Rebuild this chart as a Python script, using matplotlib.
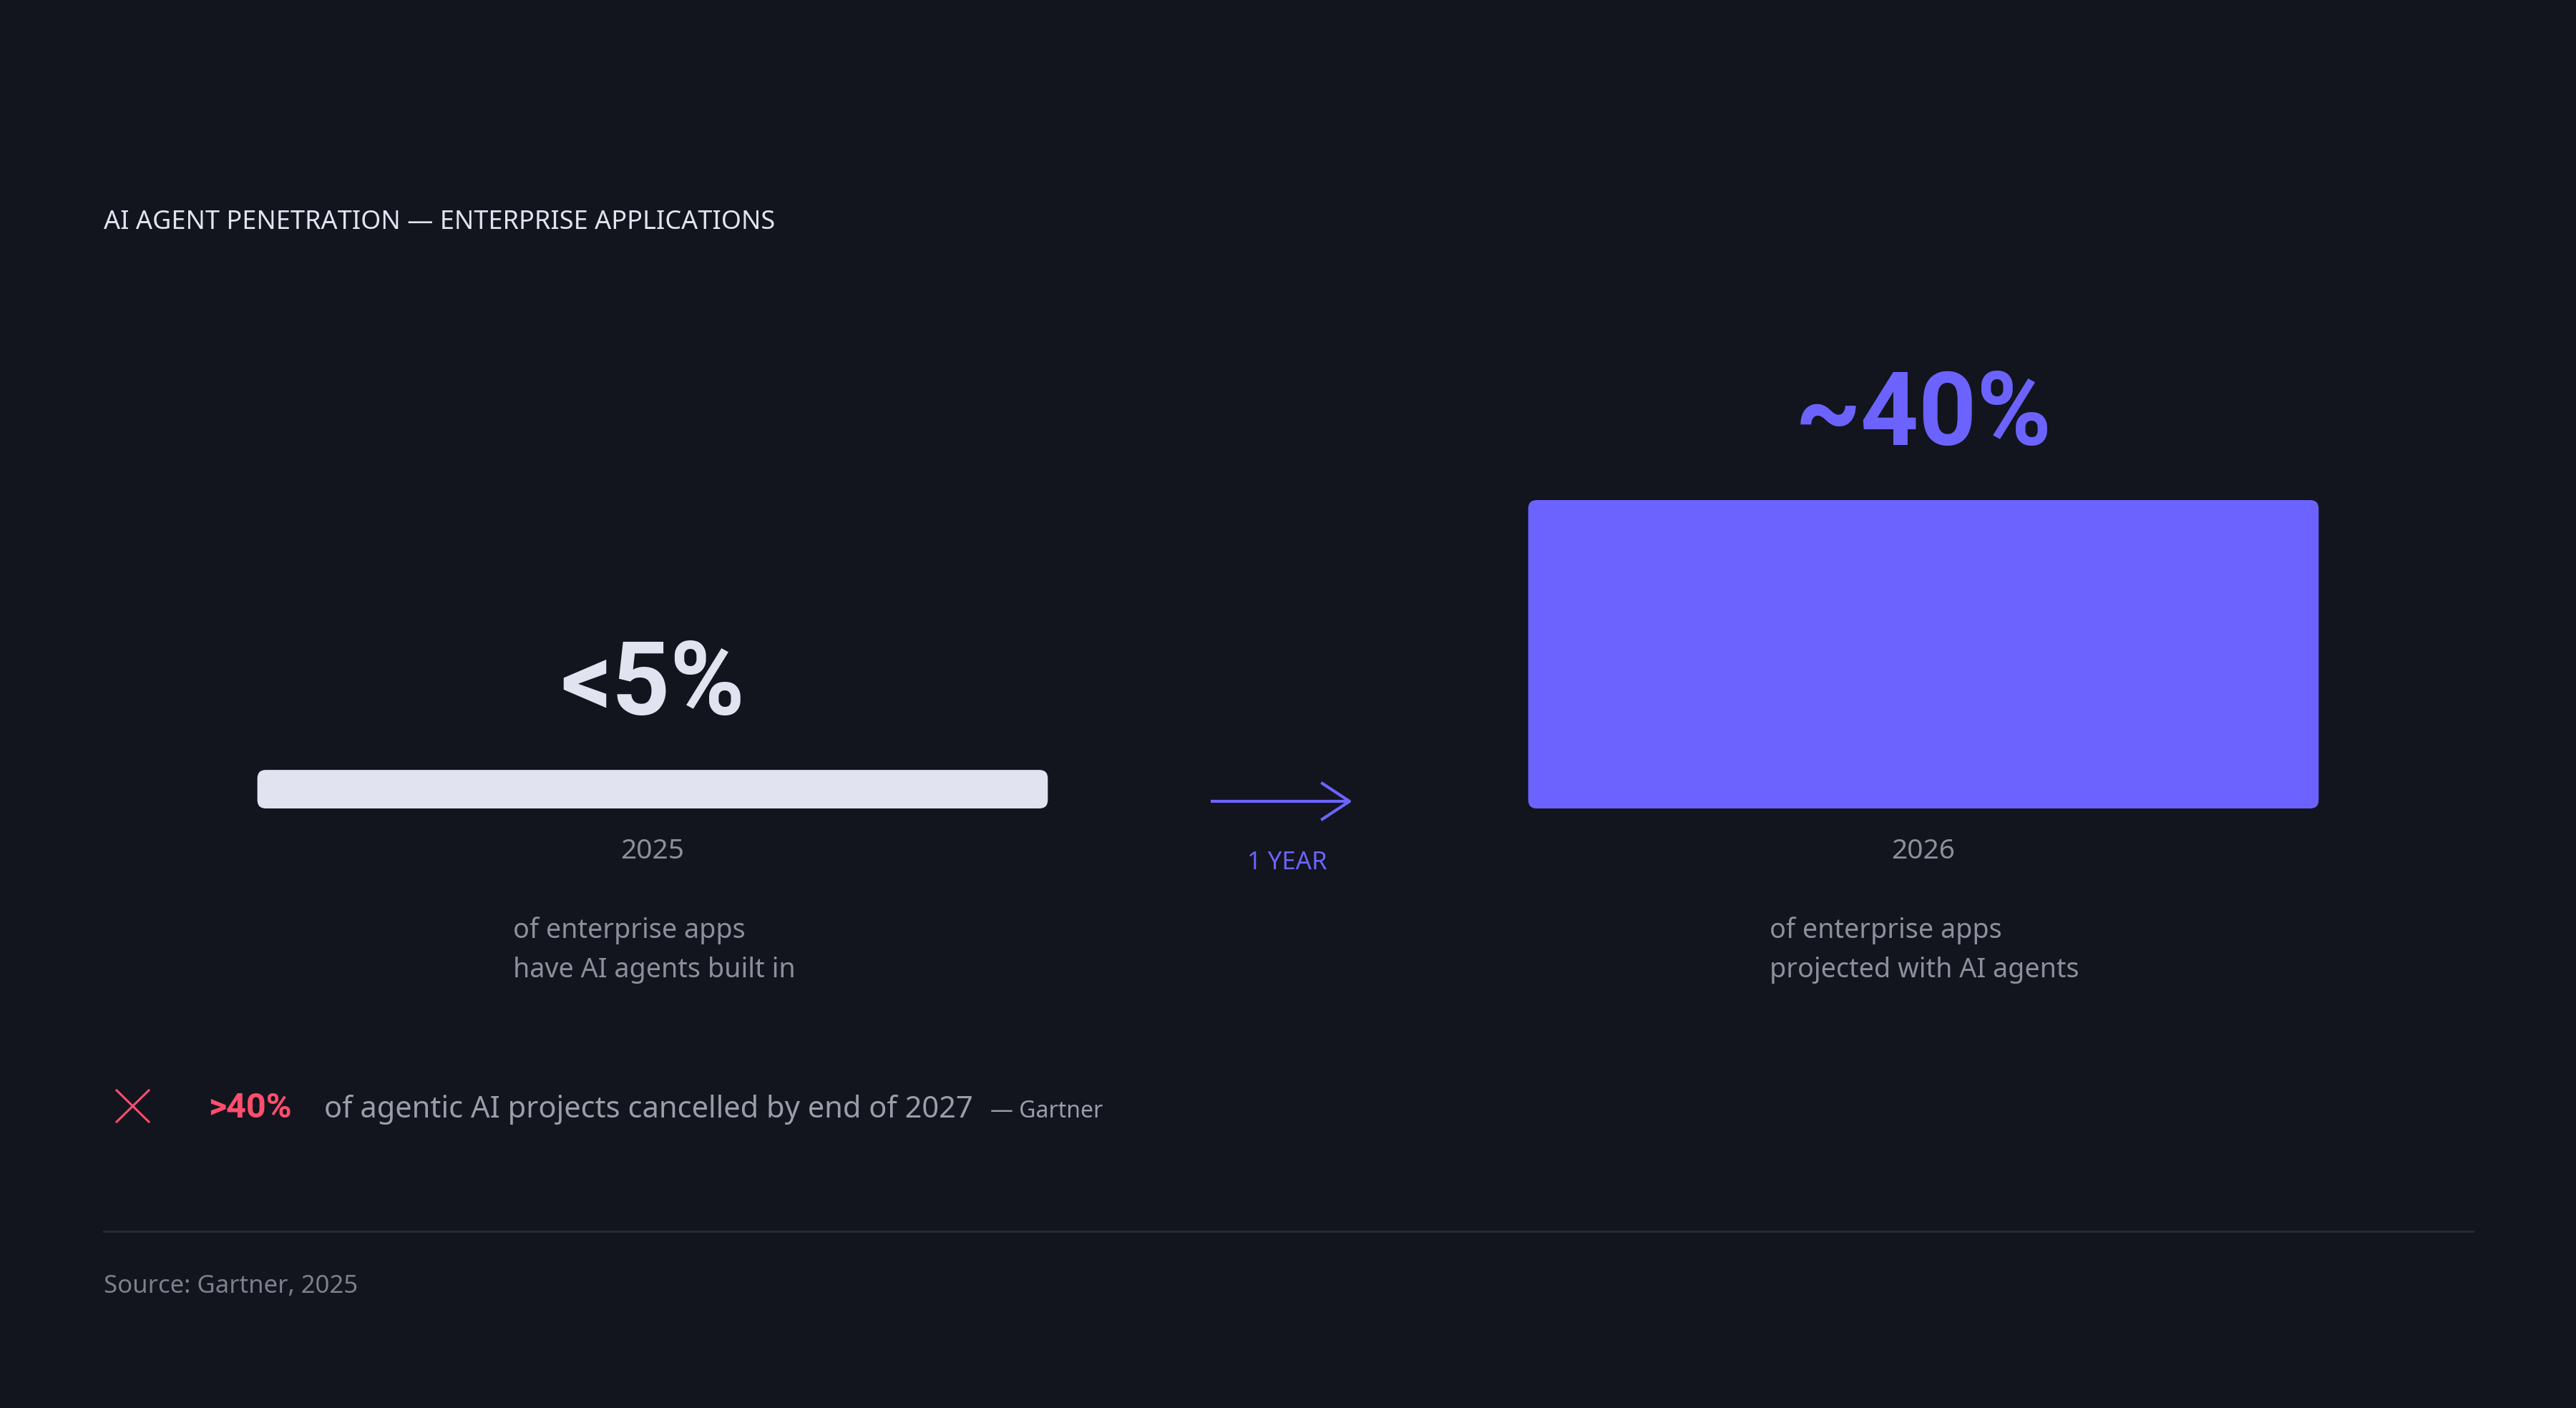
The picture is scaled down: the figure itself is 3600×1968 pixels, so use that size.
import matplotlib
matplotlib.use('Agg')
from matplotlib import pyplot as plt
from matplotlib.patches import FancyBboxPatch

# data
years = ['2025', '2026']
values = [5, 40]
value_labels = ['<5%', '~40%']
descriptions = [['of enterprise apps', 'have AI agents built in'],
                ['of enterprise apps', 'projected with AI agents']]

BG = '#12151d'
LIGHT = '#e1e4f0'
PURPLE = '#6c63ff'
PINK = '#ff4d6d'
GRAY = '#8c8f9c'
FONT = 'Noto Sans'
BOLD = 'Roboto'

plt.rcParams['font.family'] = [FONT, 'DejaVu Sans']

W, H = 3600, 1968
fig = plt.figure(figsize=(W / 200, H / 200), dpi=200, facecolor=BG)

# overlay axes in pixel units for free text / decorations
ax = fig.add_axes([0, 0, 1, 1])
ax.set_xlim(0, W)
ax.set_ylim(H, 0)
ax.axis('off')

# bar axes: baseline at y=1130px, 40% reaches y=699px
base_px, top_px = 1130, 699
bax = fig.add_axes([0, 1 - base_px / H, 1, (base_px - top_px) / H])
bax.set_xlim(-0.5135, 1.5135)
bax.set_ylim(0, 40)
bax.axis('off')
bax.patch.set_alpha(0)

bar_w = 0.622
colors = [LIGHT, PURPLE]
x_per_px = 2.027 / W
y_per_px = 40 / (base_px - top_px)
radius = 12 * x_per_px
aspect = y_per_px / x_per_px
for i, (v, c) in enumerate(zip(values, colors)):
    p = FancyBboxPatch((i - bar_w / 2, 0), bar_w, v,
                       boxstyle='round,pad=0,rounding_size=%f' % radius,
                       mutation_aspect=aspect, fc=c, ec='none')
    bax.add_patch(p)
    bax.annotate(value_labels[i], (i, v), xytext=(0, 27.7), textcoords='offset points',
                 ha='center', va='baseline', fontsize=51, fontweight='bold',
                 family=[BOLD, 'DejaVu Sans'], color=c)
    bax.annotate(years[i], (i, 0), xytext=(0, -25.2), textcoords='offset points',
                 ha='center', va='baseline', fontsize=14, color=GRAY)

# descriptions, one text per line
for x, lines in zip([717, 2473], descriptions):
    for k, line in enumerate(lines):
        ax.text(x, 1311 + 55 * k, line, ha='left', va='baseline', fontsize=13.6,
                color=GRAY)

# title
ax.text(145, 320, 'AI AGENT PENETRATION \u2014 ENTERPRISE APPLICATIONS',
        ha='left', va='baseline', fontsize=13, color=LIGHT)

# arrow + 1 YEAR
ax.plot([1692, 1884], [1120, 1120], color=PURPLE, lw=1.5, solid_capstyle='butt')
ax.plot([1848, 1886, 1848], [1095, 1120, 1145], color=PURPLE, lw=1.5)
ax.text(1799, 1215, '1 YEAR', ha='center', va='baseline', fontsize=12.5, color=PURPLE)

# cancellation note
ax.plot([163, 208], [1524, 1568], color=PINK, lw=1.1)
ax.plot([163, 208], [1568, 1524], color=PINK, lw=1.1)
ax.text(291, 1562, '>40%', ha='left', va='baseline', fontsize=17.5,
        fontweight='bold', family=[BOLD, 'DejaVu Sans'], color=PINK)
ax.text(453, 1562, 'of agentic AI projects cancelled by end of 2027',
        ha='left', va='baseline', fontsize=15, color='#9a9dab')
ax.text(1384, 1562, '\u2014 Gartner', ha='left', va='baseline', fontsize=11.5,
        color='#9a9dab')

# rule + source
ax.plot([145, 3456], [1721, 1721], color='#262a35', lw=1.1)
ax.text(145, 1807, 'Source: Gartner, 2025', ha='left', va='baseline',
        fontsize=12.5, color='#7d808c')

fig.savefig('out.png', dpi=200, facecolor=BG)
